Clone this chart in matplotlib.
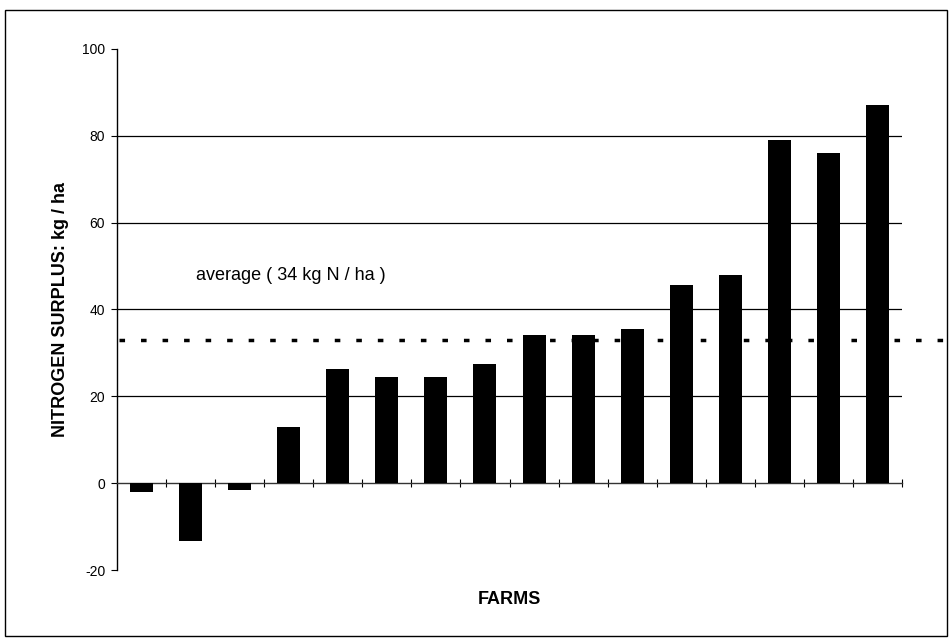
import matplotlib
matplotlib.use("Agg")
import matplotlib.pyplot as plt
from matplotlib.patches import Rectangle
import numpy as np

plt.rcParams['font.family'] = ['Liberation Sans', 'DejaVu Sans']

farms = list(range(1, 17))
surplus = [-2.0, -13.3, -1.6, 12.9, 26.2, 24.4, 24.5, 27.5, 34.2, 34.2, 35.6, 45.6, 48.0, 79.1, 76.1, 87.1]
average_line = 33.0
average_label = "average ( 34 kg N / ha )"
yticks = [-20, 0, 20, 40, 60, 80, 100]
gridlines = [20, 40, 60, 80]

W, H = 952, 642
fig = plt.figure(figsize=(W / 100, H / 100), dpi=100)
ax = fig.add_axes([117 / W, 1 - 570 / H, (902 - 117) / W, (570 - 49) / H])

x = np.arange(len(farms))
ax.bar(x, surplus, width=0.47, color='black', zorder=3)

for g in gridlines:
    ax.axhline(g, color='black', lw=0.9, zorder=1)

ax.set_xlim(-0.5, len(farms) - 0.5)
ax.set_ylim(-20, 100)

ax.plot([-0.45, len(farms) + 0.45], [average_line, average_line], color='black', lw=2.5,
        linestyle=(0, (1.6, 4.6)), clip_on=False, zorder=4)
ax.text(1.1, 47.8, average_label, fontsize=13, ha='left', va='center')

for s in ['top', 'right']:
    ax.spines[s].set_visible(False)
ax.spines['bottom'].set_position(('data', 0))
ax.spines['bottom'].set_color('#333333')
ax.spines['bottom'].set_linewidth(1.0)
ax.spines['left'].set_linewidth(1.0)
ax.spines['left'].set_bounds(-20, 100)

ax.set_yticks(yticks)
ax.set_yticklabels([str(v) for v in yticks], fontsize=10)
ax.tick_params(axis='y', direction='out', length=4, width=0.8, pad=4.5)

ax.set_xticks([])
ax.set_xticks(np.arange(-0.5, len(farms), 1.0)[1:], minor=True)
ax.tick_params(axis='x', which='minor', direction='inout', length=6, width=0.8)
ax.tick_params(axis='x', which='major', length=0)

fig.text(509.5 / W, 1 - 600 / H, "FARMS", fontsize=13, fontweight='bold', ha='center', va='center')
fig.text(61 / W, 1 - 310 / H, "NITROGEN SURPLUS: kg / ha", fontsize=13, fontweight='bold',
         rotation=90, ha='center', va='center')

fig.patches.append(Rectangle((5 / W, 1 - 636 / H), (947 - 5) / W, (636 - 10) / H,
                             transform=fig.transFigure, fill=False, edgecolor='black', lw=1.0))

fig.savefig("out.png", dpi=100)
